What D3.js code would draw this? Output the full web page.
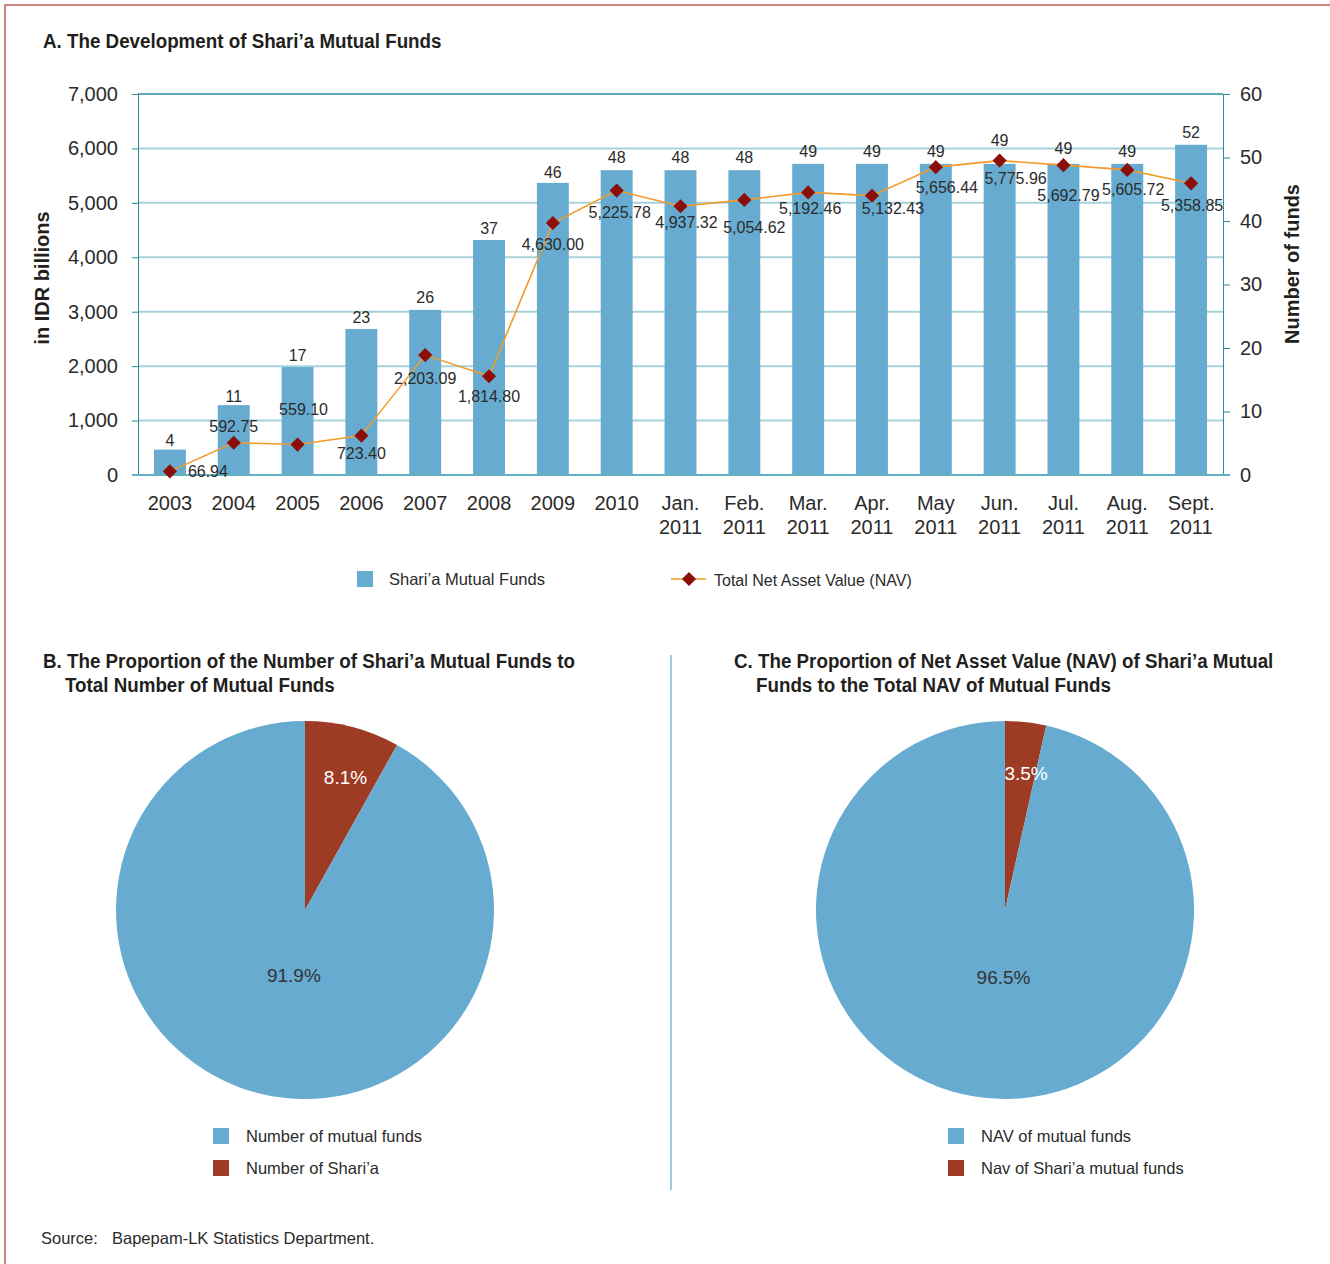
<!DOCTYPE html>
<html>
<head>
<meta charset="utf-8">
<script src="https://cdn.jsdelivr.net/npm/d3@7"></script>
<style>
  body { margin: 0; background: #fff; }
  svg text { font-family: "Liberation Sans", Arial, sans-serif; fill: #2b2b2b; }
  .ttl { font-family: "Liberation Sans", Arial, sans-serif; font-weight: bold; font-size: 21px; fill: #231f20; }
</style>
</head>
<body>
<div id="chart"></div>
<script>
// chart A data
const periods = ['2003', '2004', '2005', '2006', '2007', '2008', '2009', '2010',
  'Jan. 2011', 'Feb. 2011', 'Mar. 2011', 'Apr. 2011', 'May 2011', 'Jun. 2011',
  'Jul. 2011', 'Aug. 2011', 'Sept. 2011'];
const fundCounts = [4, 11, 17, 23, 26, 37, 46, 48, 48, 48, 49, 49, 49, 49, 49, 49, 52];
const navValues = [66.94, 592.75, 559.10, 723.40, 2203.09, 1814.80, 4630.00, 5225.78,
  4937.32, 5054.62, 5192.46, 5132.43, 5656.44, 5775.96, 5692.79, 5605.72, 5358.85];
const idrTicks = [0, 1000, 2000, 3000, 4000, 5000, 6000, 7000];
const fundTicks = [0, 10, 20, 30, 40, 50, 60];

// chart B and C data
const countPieNames = ['Number of Shari’a', 'Number of mutual funds'];
const countPieValues = [8.1, 91.9];
const navPieNames = ['Nav of Shari’a mutual funds', 'NAV of mutual funds'];
const navPieValues = [3.5, 96.5];

// label placement (pixels, relative to the point they belong to)
const navLabelShift = [[38, 0], [0, -16], [6, -35], [0, 18], [0, 23], [0, 20], [0, 21], [3, 22],
  [6, 16], [10, 28], [2, 16], [21, 13], [11, 20], [16, 18], [5, 30], [6, 20], [1, 22]];
const countLabelLift = [9, 9, 12, 12, 13, 12, 11, 13, 13, 13, 12, 12, 12, 23, 15, 12, 12];

const blue = '#67abd1';
const red = '#9e3b24';
const teal = '#2a8b9c';
const condense = 0.895; // headings are set in a condensed face

const svg = d3.select('#chart').append('svg')
  .attr('width', 1330)
  .attr('height', 1264);

// page frame
svg.append('rect')
  .attr('x', 5).attr('y', 5)
  .attr('width', 1345).attr('height', 1300)
  .attr('fill', 'none')
  .attr('stroke', '#bf5b56')
  .attr('stroke-width', 1.5);

function heading(x, y, txt) {
  return svg.append('text').attr('class', 'ttl')
    .attr('transform', 'translate(' + x + ',' + y + ') scale(' + condense + ',1)')
    .text(txt);
}

// ---------- A. bar + line chart ----------
const plot = { left: 138, right: 1223, top: 94, bottom: 475 };

heading(43, 48, 'A. The Development of Shari’a Mutual Funds');

const x = d3.scaleBand()
  .domain(periods)
  .range([plot.left, plot.right])
  .paddingInner(0.5)
  .paddingOuter(0.25);
const yNav = d3.scaleLinear().domain([0, 7000]).range([plot.bottom, plot.top]);
const yCount = d3.scaleLinear().domain([0, 60]).range([plot.bottom, plot.top]);
const cx = d => x(d) + x.bandwidth() / 2;

// gridlines
svg.append('g')
  .selectAll('line')
  .data(idrTicks.slice(1))
  .enter()
  .append('line')
  .attr('x1', plot.left)
  .attr('x2', plot.right)
  .attr('y1', d => yNav(d))
  .attr('y2', d => yNav(d))
  .attr('stroke', d => d === 7000 ? teal : '#a7d2da')
  .attr('stroke-width', d => d === 7000 ? 1.5 : 2);

// left axis
const leftAxis = svg.append('g')
  .attr('transform', 'translate(' + plot.left + ',0)')
  .call(d3.axisLeft(yNav).tickValues(idrTicks).tickSize(6).tickSizeOuter(0)
    .tickPadding(14).tickFormat(d3.format(',')));
leftAxis.selectAll('path, line').attr('stroke', teal);
leftAxis.selectAll('text').style('font-size', '20px').attr('fill', '#333');

// right axis
const rightAxis = svg.append('g')
  .attr('transform', 'translate(' + plot.right + ',0)')
  .call(d3.axisRight(yCount).tickValues(fundTicks).tickSize(7).tickSizeOuter(0).tickPadding(10));
rightAxis.selectAll('path, line').attr('stroke', teal);
rightAxis.selectAll('text').style('font-size', '20px').attr('fill', '#333');

// bars
svg.append('g')
  .selectAll('rect')
  .data(fundCounts)
  .enter()
  .append('rect')
  .attr('x', (d, i) => x(periods[i]))
  .attr('y', d => yCount(d))
  .attr('width', x.bandwidth())
  .attr('height', d => plot.bottom - yCount(d))
  .attr('fill', blue);

// bottom axis
const bottomAxis = svg.append('g')
  .attr('transform', 'translate(0,' + plot.bottom + ')')
  .call(d3.axisBottom(x).tickSize(0).tickSizeOuter(0).tickPadding(0));
bottomAxis.select('.domain').remove();
bottomAxis.selectAll('.tick text').each(function (d) {
  const parts = d.split(' ');
  const t = d3.select(this).text('').attr('y', 0).attr('dy', null)
    .style('font-size', '20px').attr('fill', '#333');
  parts.forEach((p, i) => {
    t.append('tspan').attr('x', 0).attr('y', 35 + i * 24).text(p);
  });
});
svg.append('line')
  .attr('x1', plot.left - 6).attr('x2', plot.right + 7)
  .attr('y1', plot.bottom).attr('y2', plot.bottom)
  .attr('stroke', '#62b1c2').attr('stroke-width', 2);

// count labels
svg.append('g')
  .selectAll('text')
  .data(fundCounts)
  .enter()
  .append('text')
  .attr('x', (d, i) => cx(periods[i]))
  .attr('y', (d, i) => yCount(d) - countLabelLift[i])
  .attr('dy', '0.35em')
  .attr('text-anchor', 'middle')
  .style('font-size', '16px')
  .text(d => d);

// NAV line
const line = d3.line()
  .x((d, i) => cx(periods[i]))
  .y(d => yNav(d));
svg.append('path')
  .datum(navValues)
  .attr('d', line)
  .attr('fill', 'none')
  .attr('stroke', '#f39b2a')
  .attr('stroke-width', 1.6);

const diamond = d3.symbol().type(d3.symbolSquare).size(100);
svg.append('g')
  .selectAll('path')
  .data(navValues)
  .enter()
  .append('path')
  .attr('d', diamond)
  .attr('transform', (d, i) => 'translate(' + cx(periods[i]) + ',' + yNav(d) + ') rotate(45)')
  .attr('fill', '#8b0e08');

svg.append('g')
  .selectAll('text')
  .data(navValues)
  .enter()
  .append('text')
  .attr('x', (d, i) => cx(periods[i]) + navLabelShift[i][0])
  .attr('y', (d, i) => yNav(d) + navLabelShift[i][1])
  .attr('dy', '0.35em')
  .attr('text-anchor', 'middle')
  .style('font-size', '16px')
  .text(d => d3.format(',.2f')(d));

// axis titles
svg.append('text')
  .attr('transform', 'translate(49,278) rotate(-90)')
  .attr('text-anchor', 'middle')
  .attr('class', 'ttl')
  .style('font-size', '20px')
  .text('in IDR billions');
svg.append('text')
  .attr('transform', 'translate(1299,264) rotate(-90)')
  .attr('text-anchor', 'middle')
  .attr('class', 'ttl')
  .style('font-size', '20px')
  .text('Number of funds');

// legend A
const legA = svg.append('g');
legA.append('rect').attr('x', 357).attr('y', 571).attr('width', 16).attr('height', 16).attr('fill', blue);
legA.append('text').attr('x', 389).attr('y', 579).attr('dy', '0.35em')
  .style('font-size', '16.5px').text('Shari’a Mutual Funds');
legA.append('line').attr('x1', 671).attr('x2', 706).attr('y1', 579).attr('y2', 579)
  .attr('stroke', '#f39b2a').attr('stroke-width', 1.6);
legA.append('path').attr('d', diamond)
  .attr('transform', 'translate(689,579) rotate(45)').attr('fill', '#8b0e08');
legA.append('text').attr('x', 714).attr('y', 580).attr('dy', '0.35em')
  .style('font-size', '16px').text('Total Net Asset Value (NAV)');

// ---------- B / C pies ----------
function drawPie(opts) {
  const g = svg.append('g');
  opts.title.forEach((t, i) => {
    heading(i === 0 ? opts.titleX : opts.titleX + 22, 668 + i * 24, t);
  });

  const pie = d3.pie().sort(null).value(d => d);
  const arcs = pie(opts.values);
  const arc = d3.arc().innerRadius(0).outerRadius(189);
  const colors = [red, blue];
  const labelRadius = [137, 68];

  const pg = g.append('g').attr('transform', 'translate(' + opts.cx + ',910)');
  pg.selectAll('path')
    .data(arcs)
    .enter()
    .append('path')
    .attr('d', arc)
    .attr('fill', (d, i) => colors[i]);

  pg.selectAll('text')
    .data(arcs)
    .enter()
    .append('text')
    .attr('transform', (d, i) => {
      const c = d3.arc().innerRadius(labelRadius[i]).outerRadius(labelRadius[i]).centroid(d);
      return 'translate(' + (c[0] + 6) + ',' + c[1] + ')';
    })
    .attr('dy', '0.35em')
    .attr('text-anchor', 'middle')
    .style('font-size', '19px')
    .style('fill', (d, i) => i === 0 ? '#fff' : '#333')
    .text(d => d3.format('.1f')(d.data) + '%');

  // legend: blue first, then red
  [1, 0].forEach((k, j) => {
    g.append('rect').attr('x', opts.legendX).attr('y', 1128 + j * 32)
      .attr('width', 16).attr('height', 16).attr('fill', colors[k]);
    g.append('text').attr('x', opts.legendX + 33).attr('y', 1136 + j * 32)
      .attr('dy', '0.35em').style('font-size', '16.5px').text(opts.names[k]);
  });
}

drawPie({
  title: ['B. The Proportion of the Number of Shari’a Mutual Funds to', 'Total Number of Mutual Funds'],
  titleX: 43,
  cx: 305,
  values: countPieValues,
  names: countPieNames,
  legendX: 213
});

drawPie({
  title: ['C. The Proportion of Net Asset Value (NAV) of Shari’a Mutual', 'Funds to the Total NAV of Mutual Funds'],
  titleX: 734,
  cx: 1005,
  values: navPieValues,
  names: navPieNames,
  legendX: 948
});

// divider
svg.append('line')
  .attr('x1', 671).attr('x2', 671)
  .attr('y1', 655).attr('y2', 1190)
  .attr('stroke', '#7dbccb').attr('stroke-width', 1.5);

// source
svg.append('text').attr('x', 41).attr('y', 1238).attr('dy', '0.35em')
  .style('font-size', '16.5px').text('Source:');
svg.append('text').attr('x', 112).attr('y', 1238).attr('dy', '0.35em')
  .style('font-size', '16.5px').text('Bapepam-LK Statistics Department.');
</script>
</body>
</html>
